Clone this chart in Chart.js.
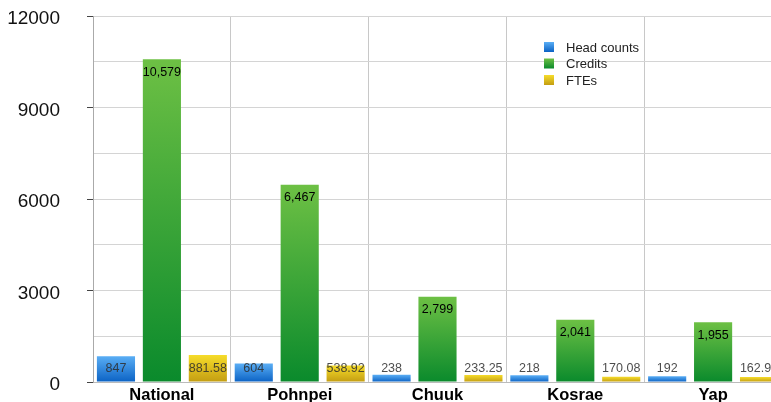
<!DOCTYPE html>
<html>
<head>
<meta charset="utf-8">
<script src="https://cdn.jsdelivr.net/npm/chart.js@4.4.0/dist/chart.umd.min.js"></script>
<style>
  html, body { margin: 0; padding: 0; background: #fff; overflow: hidden; }
  #wrap { width: 771px; height: 402px; overflow: hidden; position: relative; }
</style>
</head>
<body>
<div id="wrap">
  <canvas id="chart" width="783" height="402"></canvas>
</div>
<script>
// categories and series
const campuses = ["National", "Pohnpei", "Chuuk", "Kosrae", "Yap"];
const headCounts = [847, 604, 238, 218, 192];
const credits = [10579, 6467, 2799, 2041, 1955];
const ftes = [881.58, 538.92, 233.25, 170.08, 162.92];
const yTickLabels = [0, 3000, 6000, 9000, 12000];

const FONT = "Helvetica, Arial, 'Liberation Sans', sans-serif";

// per-bar vertical gradient: light at the top, dark at the base
const palettes = {
    blue: ["#5aaef5", "#0b62c4"],
    green: ["#6dc044", "#0a8a2c"],
    yellow: ["#f6dc2a", "#c39d12"]
};

function barGradient(pal) {
    return function(ctx) {
        const chart = ctx.chart;
        if (!chart.chartArea || !chart.scales.y) return pal[1];
        const y = chart.scales.y;
        const top = y.getPixelForValue(ctx.raw);
        const base = y.getPixelForValue(0);
        const g = chart.ctx.createLinearGradient(0, top, 0, base);
        g.addColorStop(0, pal[0]);
        g.addColorStop(1, pal[1]);
        return g;
    };
}

function fmtLabel(datasetIndex, v) {
    if (datasetIndex === 1) return v.toLocaleString("en-US");
    return String(v);
}

// value labels on the bars, plus the legend drawn over the plot
const barLabels = {
    id: "barLabels",
    afterDatasetsDraw(chart) {
        const ctx = chart.ctx;
        ctx.save();
        ctx.font = "12.5px " + FONT;
        ctx.textAlign = "center";
        ctx.textBaseline = "middle";
        chart.data.datasets.forEach((ds, di) => {
            const meta = chart.getDatasetMeta(di);
            meta.data.forEach((bar, i) => {
                const y = Math.min(bar.y, bar.base - 26) + 13;
                ctx.fillStyle = di === 1 ? "#000" : "rgba(45,45,45,0.85)";
                ctx.fillText(fmtLabel(di, ds.data[i]), bar.x, y);
            });
        });

        // legend
        const lx = 544, ly = 47, step = 16.5;
        ctx.textAlign = "left";
        ctx.font = "13px " + FONT;
        chart.data.datasets.forEach((ds, di) => {
            const cy = ly + di * step;
            const pal = ds.pal;
            const g = ctx.createLinearGradient(0, cy - 5, 0, cy + 5);
            g.addColorStop(0, pal[0]);
            g.addColorStop(1, pal[1]);
            ctx.fillStyle = g;
            ctx.fillRect(lx, cy - 5, 10, 10);
            ctx.fillStyle = "#222";
            ctx.fillText(ds.label, lx + 22, cy + 1);
        });
        ctx.restore();
    }
};

new Chart(document.getElementById("chart"), {
    type: "bar",
    data: {
        labels: campuses,
        datasets: [
            { label: "Head counts", data: headCounts, pal: palettes.blue, backgroundColor: barGradient(palettes.blue) },
            { label: "Credits", data: credits, pal: palettes.green, backgroundColor: barGradient(palettes.green) },
            { label: "FTEs", data: ftes, pal: palettes.yellow, backgroundColor: barGradient(palettes.yellow) }
        ]
    },
    options: {
        responsive: false,
        animation: false,
        layout: { padding: { top: 16, right: 1, left: 0, bottom: 0 } },
        datasets: {
            bar: { categoryPercentage: 1.0, barPercentage: 0.83, borderWidth: 0 }
        },
        plugins: {
            legend: { display: false },
            tooltip: { enabled: false }
        },
        scales: {
            x: {
                offset: true,
                grid: { offset: true, color: "#c8c8c8", drawTicks: false },
                border: { color: "#bbbbbb" },
                ticks: {
                    color: "#000",
                    padding: 4,
                    font: { family: FONT, size: 16.5, weight: "bold" }
                },
                afterFit(scale) {
                    scale.height = 20;
                    scale.paddingLeft = 0;
                    scale.paddingRight = 0;
                }
            },
            y: {
                min: 0,
                max: 12000,
                grid: {
                    color: "#d4d4d4",
                    tickLength: 6,
                    tickColor: (c) => (yTickLabels.includes(c.tick.value) ? "#444" : "rgba(0,0,0,0)")
                },
                border: { color: "#aaaaaa" },
                ticks: {
                    stepSize: 1500,
                    padding: 27,
                    labelOffset: 3,
                    color: "#111",
                    font: { family: FONT, size: 19 },
                    callback: (v) => (yTickLabels.includes(v) ? String(v) : "")
                },
                afterFit(scale) {
                    scale.width = 93;
                    scale.paddingTop = 0;
                    scale.paddingBottom = 0;
                }
            }
        }
    },
    plugins: [barLabels]
});
</script>
</body>
</html>
